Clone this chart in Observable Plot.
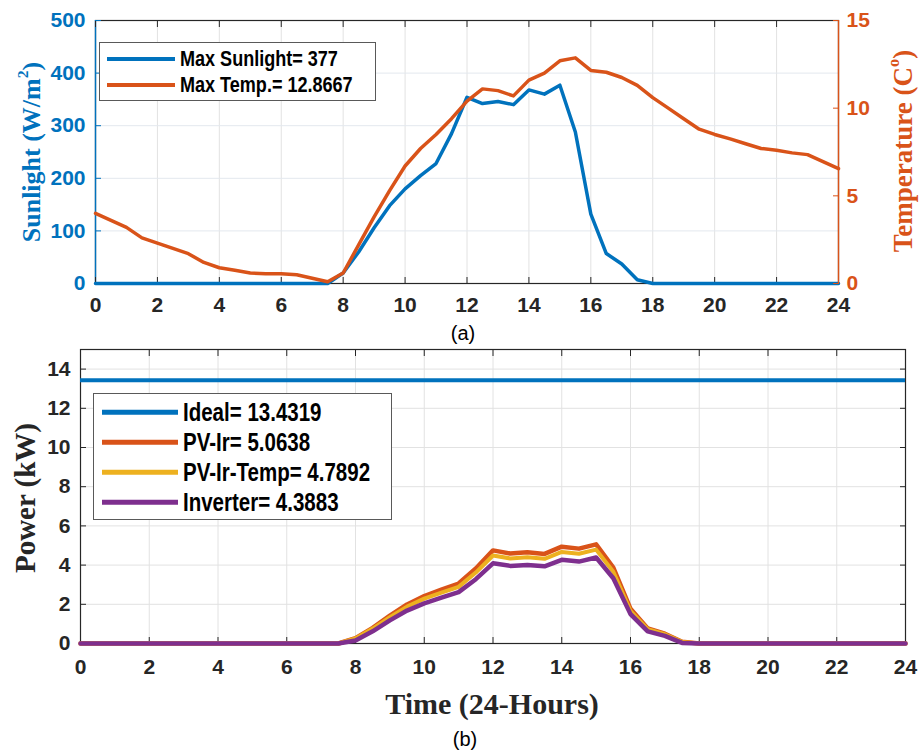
<!DOCTYPE html>
<html><head><meta charset="utf-8">
<script src="https://cdn.jsdelivr.net/npm/d3@7"></script>
<script src="https://cdn.jsdelivr.net/npm/@observablehq/plot@0.6"></script>
<style>
body{margin:0;background:#fff;}
#wrap{position:relative;width:921px;height:753px;overflow:hidden;font-family:"Liberation Sans",Arial,sans-serif;}
.layer{position:absolute;left:0;}
.lbl{position:absolute;white-space:nowrap;line-height:1;}
.vlabel{transform:translate(-50%,-50%) rotate(-90deg);font-family:"Liberation Serif","Times New Roman",serif;font-weight:bold;}
.hlabel{transform:translate(-50%,-50%);}
.legend{position:absolute;background:#fff;border:1.5px solid #595959;box-sizing:border-box;}
.swatch{position:absolute;height:4px;transform:translateY(-50%);}
.ltext{position:absolute;white-space:nowrap;font-weight:bold;color:#000;line-height:1;transform-origin:left center;}
sup{font-size:60%;vertical-align:0.75em;line-height:0;}
</style></head><body><div id="wrap"></div>
<script>
// ---- data ----
const hours = [0,0.5,1,1.5,2,2.5,3,3.5,4,4.5,5,5.5,6,6.5,7,7.5,8,8.5,9,9.5,10,10.5,11,11.5,12,12.5,13,13.5,14,14.5,15,15.5,16,16.5,17,17.5,18,18.5,19,19.5,20,20.5,21,21.5,22,22.5,23,23.5,24];
const sunlight = [0,0,0,0,0,0,0,0,0,0,0,0,0,0,0,0,
  20,60,106,148,180,205,228,285,354,342,346,340,368,360,377,288,132,57,37,7,
  0,0,0,0,0,0,0,0,0,0,0,0,0];
const temperature = [4.0,3.6,3.2,2.6,2.3,2.0,1.7,1.2,0.9,0.75,0.6,0.55,0.55,0.5,0.3,0.1,
  0.6,2.2,3.8,5.3,6.7,7.7,8.5,9.4,10.4,11.1,11.0,10.7,11.6,12.0,12.7,12.87,12.15,12.05,11.75,11.3,
  10.6,10.0,9.4,8.8,8.5,8.25,7.97,7.7,7.6,7.45,7.35,6.95,6.55];
const idealPower = 13.4319;
const pvIr = [0,0,0,0,0,0,0,0,0,0,0,0,0,0,0,0,
  0.27,0.80,1.42,1.99,2.42,2.75,3.06,3.83,4.75,4.59,4.65,4.57,4.94,4.84,5.06,3.87,1.77,0.77,0.50,0.09,
  0,0,0,0,0,0,0,0,0,0,0,0,0];
const pvIrTemp = [0,0,0,0,0,0,0,0,0,0,0,0,0,0,0,0,
  0.26,0.76,1.34,1.88,2.29,2.60,2.89,3.62,4.49,4.34,4.40,4.32,4.67,4.58,4.79,3.66,1.67,0.73,0.47,0.08,
  0,0,0,0,0,0,0,0,0,0,0,0,0];
const inverter = [0,0,0,0,0,0,0,0,0,0,0,0,0,0,0,0,
  0.15,0.62,1.18,1.68,2.05,2.34,2.62,3.28,4.09,3.96,4.01,3.94,4.27,4.18,4.39,3.33,1.50,0.62,0.39,0.03,
  0,0,0,0,0,0,0,0,0,0,0,0,0];
const xTicks = [0,2,4,6,8,10,12,14,16,18,20,22,24];
const sunTicks = [0,100,200,300,400,500];
const tempTicks = [0,5,10,15];
const powerTicks = [0,2,4,6,8,10,12,14];
const topLegend = ["Max Sunlight= 377","Max Temp.= 12.8667"];
const bottomLegend = ["Ideal= 13.4319","PV-Ir= 5.0638","PV-Ir-Temp= 4.7892","Inverter= 4.3883"];

const BLUE="#0072BD", ORANGE="#D95319", YELLOW="#EDB120", PURPLE="#7E2F8E", INK="#262626";
const GRID="#e2e2e2";

const topRows = hours.map((h,i)=>({hour:h, sun:sunlight[i], temp:temperature[i]}));
const powRows = hours.map((h,i)=>({hour:h, pvIr:pvIr[i], pvIrTemp:pvIrTemp[i], inv:inverter[i]}));

const wrap = document.getElementById("wrap");
const baseStyle = {background:"transparent", overflow:"visible", fontFamily:"Liberation Sans, Arial, sans-serif"};
function place(svg, top){ svg.classList.add("layer"); svg.style.top = top+"px"; wrap.appendChild(svg); }

// ---- top chart: sunlight ----
const topDims = {width:921, height:320, marginLeft:95, marginRight:83, marginTop:20, marginBottom:37};
const top1 = Plot.plot({
  ...topDims, style:baseStyle,
  x:{domain:[0,24]}, y:{domain:[0,500]},
  marks:[
    Plot.gridX(xTicks,{stroke:GRID, strokeOpacity:1}),
    Plot.gridY(sunTicks,{stroke:"#e3e8ee", strokeOpacity:1}),
    Plot.frame({stroke:INK, strokeWidth:1.2}),
    Plot.ruleX([hours[0]],{stroke:BLUE, strokeWidth:1.4}),
    Plot.axisX(xTicks,{anchor:"bottom", tickSize:0, tickPadding:14, fontSize:21, fontWeight:"bold", fill:INK, label:null}),
    Plot.axisX(xTicks,{anchor:"bottom", tickSize:6, dy:-6, fill:"none", stroke:INK, label:null}),
    Plot.axisX(xTicks,{anchor:"top", tickSize:6, dy:6, fill:"none", stroke:INK, label:null}),
    Plot.axisY(sunTicks,{anchor:"left", tickSize:0, tickPadding:10, fontSize:21, fontWeight:"bold", fill:BLUE, label:null}),
    Plot.axisY(sunTicks,{anchor:"left", tickSize:6, dx:6, fill:"none", stroke:BLUE, label:null}),
    Plot.line(topRows,{x:"hour", y:"sun", stroke:BLUE, strokeWidth:3.5})
  ]
});
place(top1, 0);

// ---- top chart: temperature (right axis) ----
const top2 = Plot.plot({
  ...topDims, style:baseStyle,
  x:{domain:[0,24], axis:null}, y:{domain:[0,15]},
  marks:[
    Plot.ruleX([hours[hours.length-1]],{stroke:ORANGE, strokeWidth:1.4}),
    Plot.axisY(tempTicks,{anchor:"right", tickSize:0, tickPadding:8, fontSize:21, fontWeight:"bold", fill:ORANGE, label:null}),
    Plot.axisY(tempTicks,{anchor:"right", tickSize:6, dx:-6, fill:"none", stroke:ORANGE, label:null}),
    Plot.line(topRows,{x:"hour", y:"temp", stroke:ORANGE, strokeWidth:3.5})
  ]
});
place(top2, 0);

// ---- bottom chart: power ----
const bot = Plot.plot({
  width:921, height:360, marginLeft:80, marginRight:16, marginTop:19, marginBottom:47,
  style:baseStyle,
  x:{domain:[0,24]}, y:{domain:[0,15]},
  marks:[
    Plot.gridX(xTicks,{stroke:GRID, strokeOpacity:1}),
    Plot.gridY(powerTicks,{stroke:GRID, strokeOpacity:1}),
    Plot.frame({stroke:INK, strokeWidth:1.2}),
    Plot.axisX(xTicks,{anchor:"bottom", tickSize:0, tickPadding:16, fontSize:21, fontWeight:"bold", fill:INK, label:null}),
    Plot.axisX(xTicks,{anchor:"bottom", tickSize:6, dy:-6, fill:"none", stroke:INK, label:null}),
    Plot.axisX(xTicks,{anchor:"top", tickSize:6, dy:6, fill:"none", stroke:INK, label:null}),
    Plot.axisY(powerTicks,{anchor:"left", tickSize:0, tickPadding:10, fontSize:21, fontWeight:"bold", fill:INK, label:null}),
    Plot.axisY(powerTicks,{anchor:"left", tickSize:6, dx:6, fill:"none", stroke:INK, label:null}),
    Plot.axisY(powerTicks,{anchor:"right", tickSize:6, dx:-6, fill:"none", stroke:INK, label:null}),
    Plot.ruleY([idealPower],{stroke:BLUE, strokeWidth:4}),
    Plot.line(powRows,{x:"hour", y:"pvIr", stroke:ORANGE, strokeWidth:4.5}),
    Plot.line(powRows,{x:"hour", y:"pvIrTemp", stroke:YELLOW, strokeWidth:4}),
    Plot.line(powRows,{x:"hour", y:"inv", stroke:PURPLE, strokeWidth:4.5})
  ]
});
place(bot, 330);

// ---- text labels ----
function label(html, cls, x, y, size, color, family){
  const d = document.createElement("div");
  d.className = "lbl " + cls;
  d.innerHTML = html;
  d.style.left = x+"px"; d.style.top = y+"px";
  d.style.fontSize = size+"px"; d.style.color = color;
  if (family) d.style.fontFamily = family;
  wrap.appendChild(d);
  return d;
}
label("Sunlight (W/m<sup>2</sup>)", "vlabel", 32, 152, 26, BLUE);
label("Temperature (C<sup>o</sup>)", "vlabel", 903, 151, 27, ORANGE);
label("Power (kW)", "vlabel", 25, 498, 29, INK);
const tl = label("Time (24-Hours)", "hlabel", 492, 704, 30, INK, "'Liberation Serif','Times New Roman',serif");
tl.style.fontWeight = "bold";
label("(a)", "hlabel", 463, 333, 20, "#000");
label("(b)", "hlabel", 465, 739, 20, "#000");

// ---- legends ----
const ctx = document.createElement("canvas").getContext("2d");
ctx.font = "bold 20px 'Liberation Sans Narrow', monospace";
const wa = ctx.measureText("Max Sunlight= 377").width;
ctx.font = "bold 20px monospace";
const wb = ctx.measureText("Max Sunlight= 377").width;
const hasNarrow = Math.abs(wa - wb) > 0.5;

function legend(left, top, w, h, names, colors, rowYs, swL, swR, textL, size, lw){
  const box = document.createElement("div");
  box.className = "legend";
  Object.assign(box.style, {left:left+"px", top:top+"px", width:w+"px", height:h+"px"});
  names.forEach((n,i)=>{
    const s = document.createElement("div");
    s.className = "swatch";
    Object.assign(s.style, {left:swL+"px", width:(swR-swL)+"px", top:rowYs[i]+"px", background:colors[i], height:lw+"px"});
    box.appendChild(s);
    const t = document.createElement("div");
    t.className = "ltext";
    t.textContent = n;
    t.style.left = textL+"px"; t.style.top = rowYs[i]+"px";
    if (hasNarrow) {
      t.style.fontFamily = "'Liberation Sans Narrow', 'Liberation Sans', sans-serif";
      t.style.fontSize = size+"px";
      t.style.transform = "translateY(-50%)";
    } else {
      t.style.fontFamily = "'Liberation Sans', sans-serif";
      t.style.fontSize = size+"px";
      t.style.transform = "translateY(-50%) scaleX(0.82)";
    }
    box.appendChild(t);
  });
  wrap.appendChild(box);
}
legend(99, 42, 277, 59, topLegend, [BLUE, ORANGE], [16, 42], 7, 75, 80, 22, 4);
legend(93, 393, 299, 127, bottomLegend, [BLUE, ORANGE, YELLOW, PURPLE], [18, 48, 78, 108], 8, 84, 89, 25, 4.5);
</script>
</body></html>
